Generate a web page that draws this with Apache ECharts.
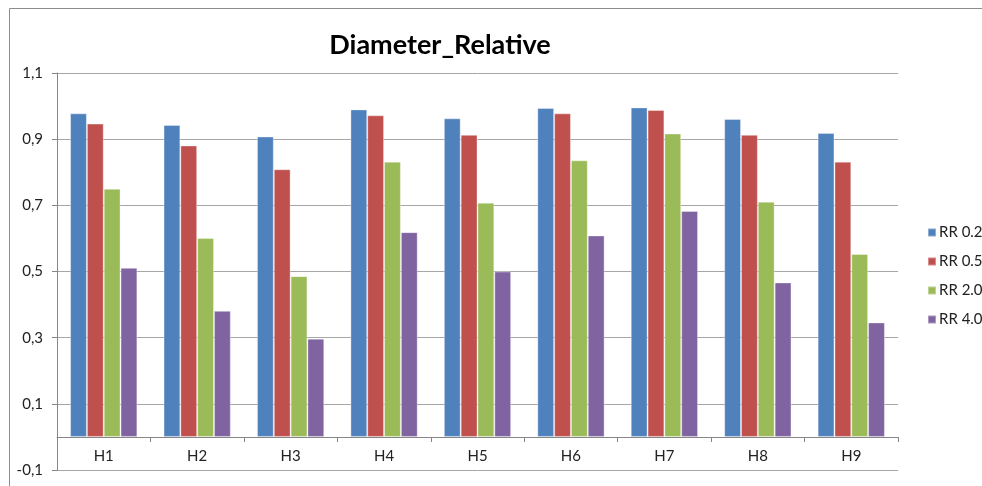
<!DOCTYPE html>
<html>
<head>
<meta charset="utf-8">
<script src="https://cdn.jsdelivr.net/npm/echarts@6/dist/echarts.min.js"></script>
<style>
html,body{margin:0;padding:0;background:#fff;}
#chart{width:982px;height:486px;}
</style>
</head>
<body>
<div id="chart"></div>
<script>
var categories = ['H1','H2','H3','H4','H5','H6','H7','H8','H9'];
var seriesNames = ['RR 0.2','RR 0.5','RR 2.0','RR 4.0'];
var rr02 = [0.978, 0.943, 0.908, 0.990, 0.963, 0.994, 0.996, 0.961, 0.919];
var rr05 = [0.947, 0.881, 0.809, 0.972, 0.913, 0.978, 0.988, 0.913, 0.832];
var rr20 = [0.750, 0.601, 0.486, 0.832, 0.708, 0.836, 0.917, 0.711, 0.553];
var rr40 = [0.511, 0.381, 0.297, 0.619, 0.500, 0.609, 0.683, 0.467, 0.346];
var yTicks = [-0.1, 0.1, 0.3, 0.5, 0.7, 0.9, 1.1];
var colors = ['#4F81BD','#C0504D','#9BBB59','#8064A2'];

var font = 'Lato, "Open Sans", sans-serif';
var chart = echarts.init(document.getElementById('chart'), null, {renderer:'canvas'});
var allData = [rr02, rr05, rr20, rr40];
var series = allData.map(function(d, i){
  return {
    name: seriesNames[i], type: 'bar', data: d,
    barGap: '0%', barCategoryGap: '28%',
    itemStyle: {color: colors[i], borderColor: 'rgba(255,255,255,0.35)', borderWidth: 1},
    emphasis: {disabled: true}
  };
});
chart.setOption({
  animation: false,
  backgroundColor: '#fff',
  color: colors,
  title: {
    text: 'Diameter_Relative', left: 435, top: 27, textAlign: 'center',
    textStyle: {fontFamily: font, fontSize: 27, fontWeight: 'bold', color: '#000'}
  },
  legend: {
    orient: 'vertical', left: 922, top: 220,
    itemWidth: 8, itemHeight: 8, itemGap: 14,
    icon: 'rect',
    textStyle: {fontFamily: font, fontSize: 15, color: '#222', padding: [0,0,0,-2]},
    data: seriesNames
  },
  grid: {left: 57, right: 84, top: 73, bottom: 16, containLabel: false, outerBoundsMode: 'none'},
  xAxis: {
    type: 'category', data: categories, position: 'bottom', offset: -33,
    axisLine: {onZero: false, lineStyle: {color: '#868686', width: 1}},
    axisTick: {show: true, length: 5, alignWithLabel: false, lineStyle: {color: '#868686'}},
    axisLabel: {fontFamily: font, fontSize: 15, color: '#222', margin: 12},
    splitLine: {show: false}
  },
  yAxis: {
    type: 'value', min: -0.1, max: 1.1, interval: 0.2,
    axisLine: {show: true, lineStyle: {color: '#868686'}},
    axisTick: {show: true, length: 5, inside: false, customValues: yTicks, lineStyle: {color: '#868686'}},
    axisLabel: {fontFamily: font, fontSize: 15, color: '#222', margin: 14, customValues: yTicks,
      formatter: function(v){ return (Math.round(v*10)/10).toFixed(1).replace('.', ','); }},
    splitLine: {show: true, lineStyle: {color: '#a6a6a6', width: 1}}
  },
  graphic: [{
    type: 'rect', left: 7, top: 6, z: -1, silent: true,
    shape: {width: 973, height: 480},
    style: {fill: 'none', stroke: '#8c8c8c', lineWidth: 1}
  }],
  series: series
});
</script>
</body>
</html>
